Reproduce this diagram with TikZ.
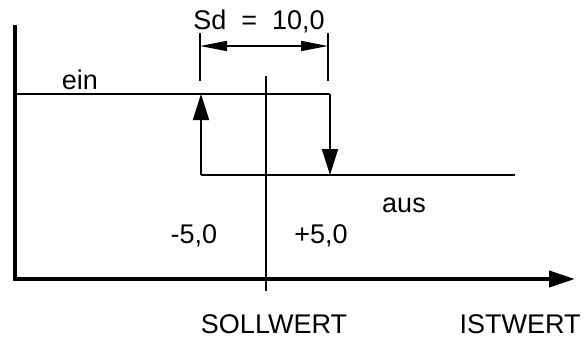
\documentclass[tikz,border=0pt]{standalone}
\usepackage{fontspec}
\setmainfont{Liberation Sans}
\usetikzlibrary{arrows.meta}

\begin{document}
\begin{tikzpicture}[x=0.5pt, y=-0.5pt, line width=1pt, line cap=butt,
  >={Triangle[length=13pt, width=8pt]},
  axis/.style={line width=2pt},
  dimline/.style={line width=0.75pt, {Triangle[length=13.5pt, width=5pt]}-{Triangle[length=13.5pt, width=5pt]}},
  lbl/.style={anchor=base, inner sep=0pt, font=\fontsize{13.5}{16}\selectfont}]
\useasboundingbox (0,0) rectangle (584,338);
\coordinate (ytop) at (15,25);
\coordinate (xend) at (575,279);
\coordinate (swtop) at (266,76);
\coordinate (swbot) at (266,291);
\coordinate (einA) at (15,94);
\coordinate (einB) at (330,94);
\coordinate (ausB) at (330,175);
\coordinate (ausA) at (201,175);
\coordinate (einC) at (201,94);
\coordinate (ausE) at (515,175);
\coordinate (dimLt) at (200,33);
\coordinate (dimLb) at (200,81);
\coordinate (dimRt) at (328,33);
\coordinate (dimRb) at (328,81);
\coordinate (dimL) at (200,46);
\coordinate (dimR) at (328,46);
\draw[axis, ->] (ytop) |- (xend);
\draw (swtop) -- (swbot);
\draw (einA) -- (einB);
\draw[->] (einB) -- (ausB);
\draw (ausA) -- (ausE);
\draw[->] (ausA) -- (einC);
\draw (dimLt) -- (dimLb);
\draw (dimRt) -- (dimRb);
\draw[dimline] (dimL) -- (dimR);
\node[lbl] (sd) at (259,29) {Sd~~=~~10,0};
\node[lbl] (ein) at (80,89) {ein};
\node[lbl] (aus) at (404,212) {aus};
\node[lbl] (minus) at (194,243) {-5,0};
\node[lbl] (plus) at (321,243) {+5,0};
\node[lbl] (soll) at (274,333) {SOLLWERT};
\node[lbl] (ist) at (520,333) {ISTWERT};
\end{tikzpicture}
\end{document}
